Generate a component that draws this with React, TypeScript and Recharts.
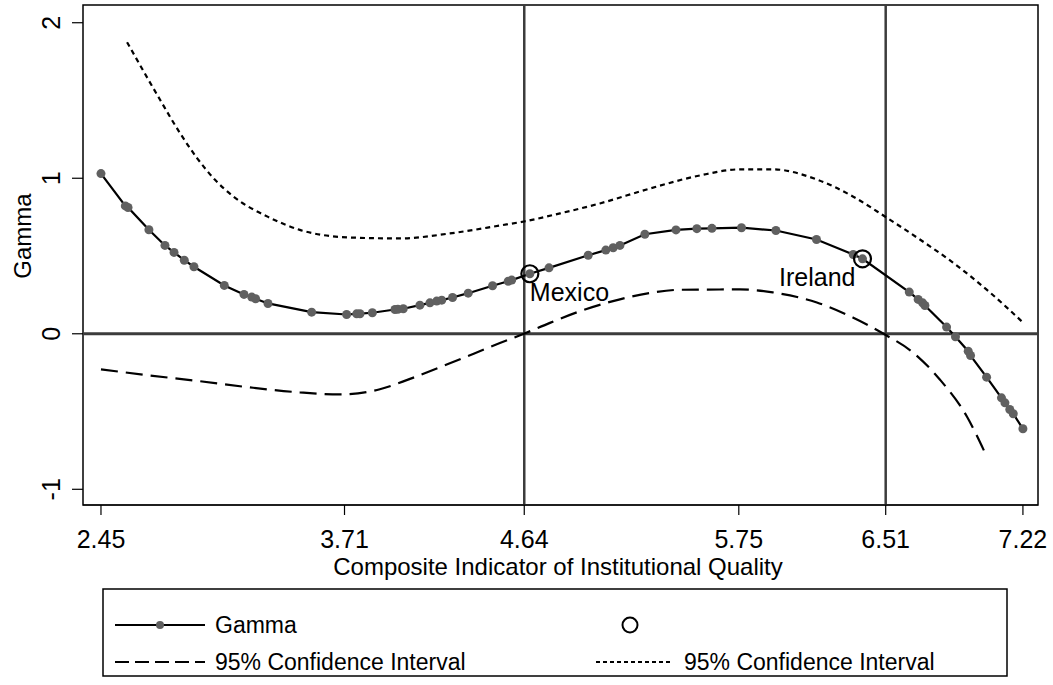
import {
  ComposedChart,
  Line,
  ReferenceArea,
  ReferenceDot,
  ReferenceLine,
  XAxis,
  YAxis,
} from "recharts";

// fitted gamma at each observed country
const gammaX = [
  2.45, 2.576, 2.59, 2.698, 2.781, 2.828, 2.881, 2.931, 3.088, 3.19, 3.23, 3.25,
  3.314, 3.54, 3.721, 3.773, 3.79, 3.854, 3.971, 3.986, 4.014, 4.1, 4.152, 4.187,
  4.213, 4.269, 4.35, 4.476, 4.557, 4.575, 4.669, 4.768, 4.971, 5.062, 5.1, 5.135,
  5.264, 5.425, 5.533, 5.611, 5.764, 5.942, 6.152, 6.342, 6.39, 6.632, 6.678,
  6.701, 6.713, 6.825, 6.871, 6.937, 6.949, 7.032, 7.109, 7.127, 7.152, 7.17, 7.22,
];
const gammaY = [
  1.03, 0.822, 0.812, 0.669, 0.568, 0.523, 0.473, 0.431, 0.311, 0.253, 0.236, 0.225,
  0.195, 0.139, 0.124, 0.128, 0.129, 0.135, 0.156, 0.158, 0.161, 0.184, 0.199, 0.21,
  0.216, 0.233, 0.261, 0.309, 0.338, 0.345, 0.386, 0.424, 0.505, 0.538, 0.553, 0.568,
  0.64, 0.668, 0.676, 0.678, 0.682, 0.664, 0.606, 0.51, 0.482, 0.268, 0.221,
  0.199, 0.182, 0.043, -0.019, -0.112, -0.14, -0.279, -0.412, -0.444, -0.487, -0.514, -0.611,
];

// 95% confidence band
const upperX = [
  2.585, 2.755, 2.859, 2.947, 3.04, 3.133, 3.324, 3.479, 3.738, 3.997, 4.255, 4.514,
  4.638, 4.825, 5.031, 5.29, 5.549, 5.756, 5.926, 6.154, 6.34, 6.506, 6.687, 6.858,
  7.049, 7.22,
];
const upperY = [
  1.875, 1.506, 1.29, 1.13, 0.99, 0.885, 0.746, 0.668, 0.619, 0.613, 0.645, 0.696,
  0.722, 0.774, 0.838, 0.934, 1.018, 1.057, 1.057, 0.992, 0.883, 0.754, 0.606, 0.458,
  0.266, 0.073,
];
const lowerX = [
  2.45, 2.703, 2.962, 3.221, 3.479, 3.686, 3.893, 4.049, 4.255, 4.514, 4.638, 4.773,
  4.928, 5.099, 5.29, 5.445, 5.756, 5.926, 6.154, 6.34, 6.506, 6.651, 6.79, 6.93, 7.023,
];
const lowerY = [
  -0.229, -0.268, -0.305, -0.345, -0.377, -0.39, -0.357, -0.29, -0.19, -0.06, 0.0, 0.07,
  0.145, 0.21, 0.262, 0.283, 0.285, 0.266, 0.201, 0.105, -0.005, -0.12, -0.294, -0.532, -0.763,
];

const xTicks = [2.45, 3.71, 4.64, 5.75, 6.51, 7.22];
const yTicks = [-1, 0, 1, 2];
const refLinesX = [4.64, 6.51];

const markedNames = ["Mexico", "Ireland"];
const markedX = [4.669, 6.39];
const markedY = [0.386, 0.482];

const X_DOMAIN: [number, number] = [2.357, 7.298];
const Y_DOMAIN: [number, number] = [-1.101, 2.114];

const FONT = "'Liberation Sans', Arial, Helvetica, sans-serif";

type Row = { x: number; gamma?: number; upper?: number; lower?: number };

const rowMap = new Map<number, Row>();
function put(xs: number[], ys: number[], key: "gamma" | "upper" | "lower") {
  xs.forEach((x, i) => {
    const r = rowMap.get(x) ?? { x };
    r[key] = ys[i];
    rowMap.set(x, r);
  });
}
put(gammaX, gammaY, "gamma");
put(upperX, upperY, "upper");
put(lowerX, lowerY, "lower");
const data = [...rowMap.values()].sort((a, b) => a.x - b.x);

function XTick({ x, payload }: any) {
  return (
    <text x={x} y={548} textAnchor="middle" fontSize={25} fontFamily={FONT} fill="#000">
      {payload.value}
    </text>
  );
}

function YTick({ y, payload }: any) {
  return (
    <text
      transform={`translate(51, ${y}) rotate(-90)`}
      textAnchor="middle"
      dy="0.36em"
      fontSize={25}
      fontFamily={FONT}
      fill="#000"
    >
      {payload.value}
    </text>
  );
}

function XTitle() {
  return (
    <text x={558} y={575} textAnchor="middle" fontSize={24} fontFamily={FONT} fill="#000">
      Composite Indicator of Institutional Quality
    </text>
  );
}

function YTitle() {
  return (
    <text
      transform="translate(22, 236) rotate(-90)"
      textAnchor="middle"
      dy="0.36em"
      fontSize={24}
      fontFamily={FONT}
      fill="#000"
    >
      Gamma
    </text>
  );
}

function markedShape(i: number) {
  return (p: any) => (
    <g>
      <circle cx={p.cx} cy={p.cy} r={8.5} fill="none" stroke="#000" strokeWidth={2.2} />
      <text
        x={i === 0 ? p.cx : p.cx - 7}
        y={p.cy + 27}
        textAnchor={i === 0 ? "start" : "end"}
        fontSize={25}
        fontFamily={FONT}
        fill="#000"
      >
        {markedNames[i]}
      </text>
    </g>
  );
}

function ChartLegend() {
  const txt = { fontSize: 23, fontFamily: FONT, fill: "#000" };
  return (
    <svg
      width={904}
      height={87}
      style={{ position: "absolute", left: 103, top: 589, overflow: "visible" }}
    >
      <rect x={0} y={0} width={904} height={87} fill="#fff" stroke="#000" strokeWidth={1.5} />
      <line x1={12} y1={36} x2={102} y2={36} stroke="#000" strokeWidth={2} />
      <circle cx={57} cy={36} r={4} fill="#606060" />
      <text x={112} y={36} dy="0.36em" {...txt}>Gamma</text>
      <circle cx={527} cy={36} r={7.5} fill="none" stroke="#000" strokeWidth={2} />
      <line x1={12} y1={73} x2={102} y2={73} stroke="#000" strokeWidth={2} strokeDasharray="14 6" />
      <text x={112} y={73} dy="0.36em" {...txt}>95% Confidence Interval</text>
      <line x1={493} y1={73} x2={570} y2={73} stroke="#000" strokeWidth={2} strokeDasharray="4 3" />
      <text x={581} y={73} dy="0.36em" {...txt}>95% Confidence Interval</text>
    </svg>
  );
}

export default function App() {
  return (
    <div
      style={{
        position: "absolute",
        left: 0,
        top: 0,
        width: 1053,
        height: 685,
        background: "#fff",
      }}
    >
      <ComposedChart
        width={1053}
        height={685}
        data={data}
        margin={{ top: 5, right: 15, left: 0, bottom: 120 }}
      >
        <XAxis
          dataKey="x"
          type="number"
          domain={X_DOMAIN}
          allowDataOverflow
          ticks={xTicks}
          tick={<XTick />}
          tickSize={10}
          tickLine={{ stroke: "#000", strokeWidth: 1.2 }}
          axisLine={{ stroke: "#000", strokeWidth: 1.2 }}
          height={60}
          label={<XTitle />}
        />
        <YAxis
          type="number"
          domain={Y_DOMAIN}
          allowDataOverflow
          ticks={yTicks}
          tick={<YTick />}
          tickSize={11}
          tickLine={{ stroke: "#000", strokeWidth: 1.2 }}
          axisLine={false}
          width={83}
          label={<YTitle />}
        />
        <ReferenceArea
          x1={X_DOMAIN[0]}
          x2={X_DOMAIN[1]}
          y1={Y_DOMAIN[0]}
          y2={Y_DOMAIN[1]}
          fill="none"
          stroke="#000"
          strokeWidth={1.5}
        />
        {refLinesX.map((v) => (
          <ReferenceLine key={v} x={v} stroke="#3c3c3c" strokeWidth={2.5} />
        ))}
        <ReferenceLine y={0} stroke="#3c3c3c" strokeWidth={3} />
        <Line
          dataKey="lower"
          type="monotone"
          stroke="#000"
          strokeWidth={2.2}
          strokeDasharray="17 8"
          dot={false}
          connectNulls
          isAnimationActive={false}
        />
        <Line
          dataKey="upper"
          type="monotone"
          stroke="#000"
          strokeWidth={2.2}
          strokeDasharray="5 4"
          dot={false}
          connectNulls
          isAnimationActive={false}
        />
        <Line
          key="gamma-dots"
          dataKey="gamma"
          stroke="none"
          dot={{ r: 4.5, fill: "#606060", stroke: "none" }}
          connectNulls
          isAnimationActive={false}
        />
        <Line
          key="gamma-line"
          dataKey="gamma"
          type="linear"
          stroke="#000"
          strokeWidth={2.2}
          dot={false}
          connectNulls
          isAnimationActive={false}
        />
        {markedNames.map((n, i) => (
          <ReferenceDot key={n} x={markedX[i]} y={markedY[i]} shape={markedShape(i)} />
        ))}
      </ComposedChart>
      <ChartLegend />
    </div>
  );
}
